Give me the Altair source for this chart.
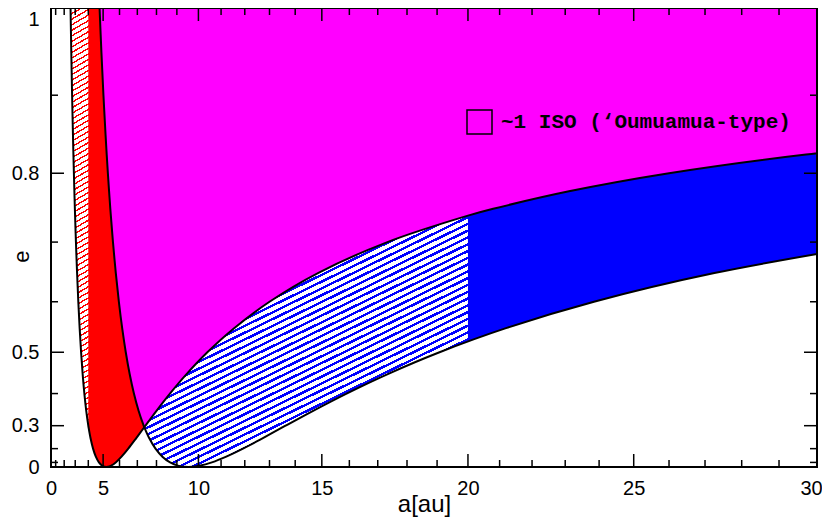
import math
import altair as alt
import pandas as pd

# ---------------- data ----------------
# eccentricity grid and the semi-major axis of the four boundary curves
E = [0.0, 0.02, 0.05, 0.1, 0.15, 0.2, 0.25, 0.2944, 0.3, 0.35, 0.4, 0.45, 0.5,
     0.55, 0.6, 0.65, 0.7, 0.74, 0.75, 0.775, 0.8, 0.825, 0.85, 0.9, 0.95, 1.0]
A_APO_JUP = [5.2, 5.098, 4.952, 4.727, 4.522, 4.333, 4.16, 4.017, 4.0, 3.852, 3.714, 3.586, 3.467,
             3.355, 3.25, 3.152, 3.059, 2.989, 2.971, 2.93, 2.889, 2.849, 2.811, 2.737, 2.667, 2.6]
A_PERI_JUP = [5.2, 5.306, 5.474, 5.778, 6.118, 6.5, 6.933, 7.37, 7.429, 8.0, 8.667, 9.455, 10.4,
              11.556, 13.0, 14.857, 17.333, 20.0, 20.8, 23.111, 26.0, 29.714, 34.667, None, None, None]
A_APO_SAT = [9.54, 9.353, 9.086, 8.673, 8.296, 7.95, 7.632, 7.37, 7.338, 7.067, 6.814, 6.579, 6.36,
             6.155, 5.963, 5.782, 5.612, 5.483, 5.451, 5.375, 5.3, 5.227, 5.157, 5.021, 4.892, 4.77]
A_PERI_SAT = [9.54, 9.735, 10.042, 10.6, 11.224, 11.925, 12.72, 13.52, 13.629, 14.677, 15.9, 17.345, 19.08,
              21.2, 23.85, 27.257, 31.8, None, None, None, None, None, None, None, None, None]
A_HATCH_RED = 4.0     # red region is hatched left of this a
A_HATCH_BLUE = 20.0   # blue region is hatched left of this a
A_MAX = 30.0

X_MAJOR = [0, 5, 10, 15, 20, 25, 30]
X_MINOR = [1, 2, 3, 4, 6, 7, 8, 9, 11, 12, 13, 14, 16, 17, 18, 19, 21, 22, 23, 24, 26, 27, 28, 29]
Y_MAJOR = [0, 0.3, 0.5, 0.8, 1]
Y_MINOR = [0.1, 0.2, 0.4, 0.6, 0.7, 0.9]
LEGEND_LABEL = "~1 ISO (\u2018Oumuamua-type)"

MAGENTA, RED, BLUE = "#ff00ff", "#ff0000", "#0000ff"

# ---------------- layout ----------------
W, H = 766, 459
MAJ, MIN = 13, 7


def px(a):
    return W * (a / 30.0) ** 1.5


def py(e):
    return H * (1 - e * e)


xs = alt.Scale(type="pow", exponent=1.5, domain=[0, 30], nice=False, zero=False)
ys = alt.Scale(type="pow", exponent=2, domain=[0, 1], nice=False)
xaxis = alt.Axis(values=X_MAJOR, ticks=False, tickSize=0, domain=False, grid=False,
                 labelFont="Liberation Sans", labelFontSize=20, labelPadding=11,
                 labelExpr="'' + datum.value", labelFlush=False,
                 labelOffset={"condition": {"test": "datum.value == 30", "value": -6}, "value": 0},
                 title="a[au]", titleFont="Liberation Sans", titleFontSize=24,
                 titleFontWeight="normal", titleX=373, titleY=44,
                 titleBaseline="alphabetic", titleAlign="center")
yaxis = alt.Axis(values=Y_MAJOR, ticks=False, tickSize=0, domain=False, grid=False,
                 labelFont="Liberation Sans", labelFontSize=20, labelPadding=12,
                 labelExpr="'' + datum.value", labelFlush=False,
                 labelOffset={"condition": {"test": "datum.value == 1", "value": 11}, "value": 0},
                 title="e", titleFont="Liberation Sans", titleFontSize=22,
                 titleFontWeight="normal", titleX=-30, titleY=248, titleAngle=270,
                 titleBaseline="middle", titleAlign="center")


def X(f):
    return alt.X(f"{f}:Q", scale=xs, axis=xaxis)


def Y(f):
    return alt.Y(f"{f}:Q", scale=ys, axis=yaxis)


def band(rows):
    return pd.DataFrame(rows, columns=["e", "a1", "a2"])


rows_all = list(zip(E, A_APO_JUP, A_PERI_JUP, A_APO_SAT, A_PERI_SAT))
magenta = band([(e, QS, A_MAX) for e, QJ, qJ, QS, qS in rows_all])
blue_solid = band([(e, qJ, A_MAX) for e, QJ, qJ, QS, qS in rows_all if qJ is not None])
blue_hatch = band([(e, qJ, A_HATCH_BLUE) for e, QJ, qJ, QS, qS in rows_all
                   if qJ is not None and qJ <= A_HATCH_BLUE])
white_low = band([(e, qS, A_MAX) for e, QJ, qJ, QS, qS in rows_all if qS is not None])
red_solid = band([(e, QJ, QS) for e, QJ, qJ, QS, qS in rows_all])
white_gap = band([(e, qJ, QS) for e, QJ, qJ, QS, qS in rows_all if qJ is not None and qJ <= QS])
red_hatch = band([(e, QJ, A_HATCH_RED) for e, QJ, qJ, QS, qS in rows_all if QJ <= A_HATCH_RED])

curve_rows = []
for name, arr in [("QJ", A_APO_JUP), ("qJ", A_PERI_JUP), ("QS", A_APO_SAT), ("qS", A_PERI_SAT)]:
    for e, a in zip(E, arr):
        if a is not None:
            curve_rows.append({"curve": name, "e": e, "a": a})
curves = pd.DataFrame(curve_rows)


def stripes(color, df, angle, period, thick):
    """Hatching as a hard-stop linear gradient in the area's bounding box."""
    x0, x1 = px(df["a1"].min()), px(df["a2"].max())
    y0, y1 = py(df["e"].max()), py(df["e"].min())
    w, h = x1 - x0, y1 - y0
    s, c = math.sin(math.radians(angle)), math.cos(math.radians(angle))
    D = w * s + h * c
    lam = D / (w * w * s * s + h * h * c * c)
    stops = []
    i = 0
    while i * period < D:
        o0 = round(i * period / D, 5)
        o1 = round(min(1.0, (i * period + thick) / D), 5)
        o2 = round(min(1.0, (i + 1) * period / D), 5)
        stops += [{"offset": o0, "color": color}, {"offset": o1, "color": color},
                  {"offset": o1, "color": "white"}, {"offset": o2, "color": "white"}]
        i += 1
    return {"gradient": "linear", "x1": 0, "y1": 0,
            "x2": round(lam * w * s, 5), "y2": round(lam * h * c, 5), "stops": stops}


def area(df, fill):
    return alt.Chart(df).mark_area(orient="horizontal", interpolate="catmull-rom",
                                   fill=fill, clip=True).encode(
        y=Y("e"), x=X("a1"), x2=alt.X2("a2"))


layers = [
    area(magenta, MAGENTA),
    area(blue_solid, BLUE),
    area(blue_hatch, stripes(BLUE, blue_hatch, 26, 6.1, 2.4)),
    area(white_low, "white"),
    area(red_solid, RED),
    area(white_gap, "white"),
    area(red_hatch, stripes(RED, red_hatch, 30, 4.8, 1.4)),
    alt.Chart(curves).mark_line(color="black", strokeWidth=2, interpolate="catmull-rom",
                                clip=True).encode(
        x=X("a"), y=Y("e"), detail="curve:N", order="e:Q"),
]

xmaj = pd.DataFrame({"v": X_MAJOR})
xmin = pd.DataFrame({"v": X_MINOR})
ymaj = pd.DataFrame({"v": Y_MAJOR})
ymin = pd.DataFrame({"v": Y_MINOR})
for df, L in [(xmaj, MAJ), (xmin, MIN)]:
    layers.append(alt.Chart(df).mark_rule(color="black", strokeWidth=1.5).encode(
        x=X("v"), y=alt.value(H), y2=alt.value(H - L)))
    layers.append(alt.Chart(df).mark_rule(color="black", strokeWidth=1.5).encode(
        x=X("v"), y=alt.value(0), y2=alt.value(L)))
for df, L in [(ymaj, MAJ), (ymin, MIN)]:
    layers.append(alt.Chart(df).mark_rule(color="black", strokeWidth=1.5).encode(
        y=Y("v"), x=alt.value(0), x2=alt.value(L)))
    layers.append(alt.Chart(df).mark_rule(color="black", strokeWidth=1.5).encode(
        y=Y("v"), x=alt.value(W), x2=alt.value(W - L)))

one = pd.DataFrame({"k": [0]})
# frame
layers.append(alt.Chart(one).mark_rect(fillOpacity=0, stroke="black", strokeWidth=2).encode(
    x=alt.value(0), x2=alt.value(W), y=alt.value(0), y2=alt.value(H)))
# legend box and label
layers.append(alt.Chart(one).mark_rect(fillOpacity=0, stroke="black", strokeWidth=1.5).encode(
    x=alt.value(416), x2=alt.value(441), y=alt.value(102), y2=alt.value(126)))
layers.append(alt.Chart(one).mark_text(align="left", baseline="alphabetic", font="Liberation Mono",
                                       fontSize=21, fontWeight="bold", color="black").encode(
    x=alt.value(450), y=alt.value(120), text=alt.value(LEGEND_LABEL)))

chart = alt.layer(*layers).properties(
    width=W, height=H,
    padding={"left": 43, "top": 0, "right": 5, "bottom": 53},
    autosize=alt.AutoSizeParams(type="none"),
).configure_view(strokeWidth=0)

chart.save("out.html", embed_options={"renderer": "svg", "actions": False})
